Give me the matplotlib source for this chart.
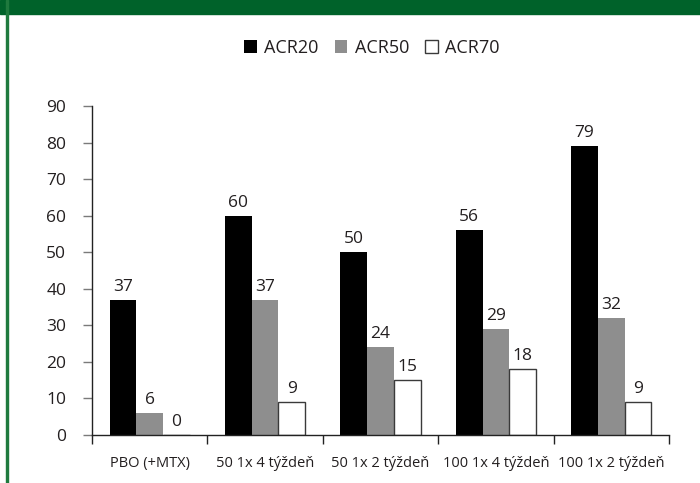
import matplotlib.pyplot as plt
import numpy as np
from matplotlib.patches import Rectangle

categories = ['PBO (+MTX)', '50 1x 4 týždeň', '50 1x 2 týždeň',
              '100 1x 4 týždeň', '100 1x 2 týždeň']
acr20 = [37, 60, 50, 56, 79]
acr50 = [6, 37, 24, 29, 32]
acr70 = [0, 9, 15, 18, 9]

plt.rcParams['font.family'] = ['Open Sans', 'DejaVu Sans']
txt = '#231f20'

fig = plt.figure(figsize=(7, 4.83), dpi=100)
ax = fig.add_axes([92 / 700, 1 - 435 / 483, 577 / 700, (435 - 106) / 483])

x = np.arange(len(categories))
w = 0.232
b1 = ax.bar(x - w, acr20, w, color='black', label='ACR20')
b2 = ax.bar(x, acr50, w, color='#8e8e8e', label='ACR50')
b3 = ax.bar(x + w, acr70, w, color='white', edgecolor='#3a3a3a',
            linewidth=1, label='ACR70')

for bars, vals in [(b1, acr20), (b2, acr50), (b3, acr70)]:
    for bar, v in zip(bars, vals):
        ax.annotate(str(v), (bar.get_x() + bar.get_width() / 2, v),
                    xytext=(0, 3.5), textcoords='offset points',
                    ha='center', va='bottom', fontsize=12.5, color=txt)

ax.set_xlim(-0.5, len(categories) - 0.5)
ax.set_ylim(0, 90)
ax.set_yticks(range(0, 91, 10))
ax.tick_params(axis='y', length=6.5, width=1, color='#7a7a7a',
               labelsize=12.5, labelcolor=txt, pad=12)

# labels under category centres, tick marks on the boundaries
ax.set_xticks(x)
ax.set_xticklabels(categories)
ax.tick_params(axis='x', which='major', length=0, labelsize=10.5,
               labelcolor=txt, pad=15)
ax.set_xticks(np.arange(-0.5, len(categories), 1), minor=True)
ax.tick_params(axis='x', which='minor', length=6.5, width=1, color='#222222')

for s in ['top', 'right']:
    ax.spines[s].set_visible(False)
for s in ['left', 'bottom']:
    ax.spines[s].set_color('#222222')
    ax.spines[s].set_linewidth(1)

fig.legend(handles=[b1, b2, b3], loc='center',
           bbox_to_anchor=(372 / 700, 1 - 48 / 483), ncol=3, frameon=False,
           fontsize=13, handlelength=0.7, handleheight=0.7,
           handletextpad=0.4, columnspacing=0.9, labelcolor=txt)

# green frame: band on top, thin rule on the left
fig.patches.append(Rectangle((0, 1 - 14 / 483), 1, 14 / 483,
                             transform=fig.transFigure, color='#00622a'))
fig.patches.append(Rectangle((6 / 700, 0), 2 / 700, 1,
                             transform=fig.transFigure, color='#1f7a3e'))

fig.savefig('out.png', dpi=100)
